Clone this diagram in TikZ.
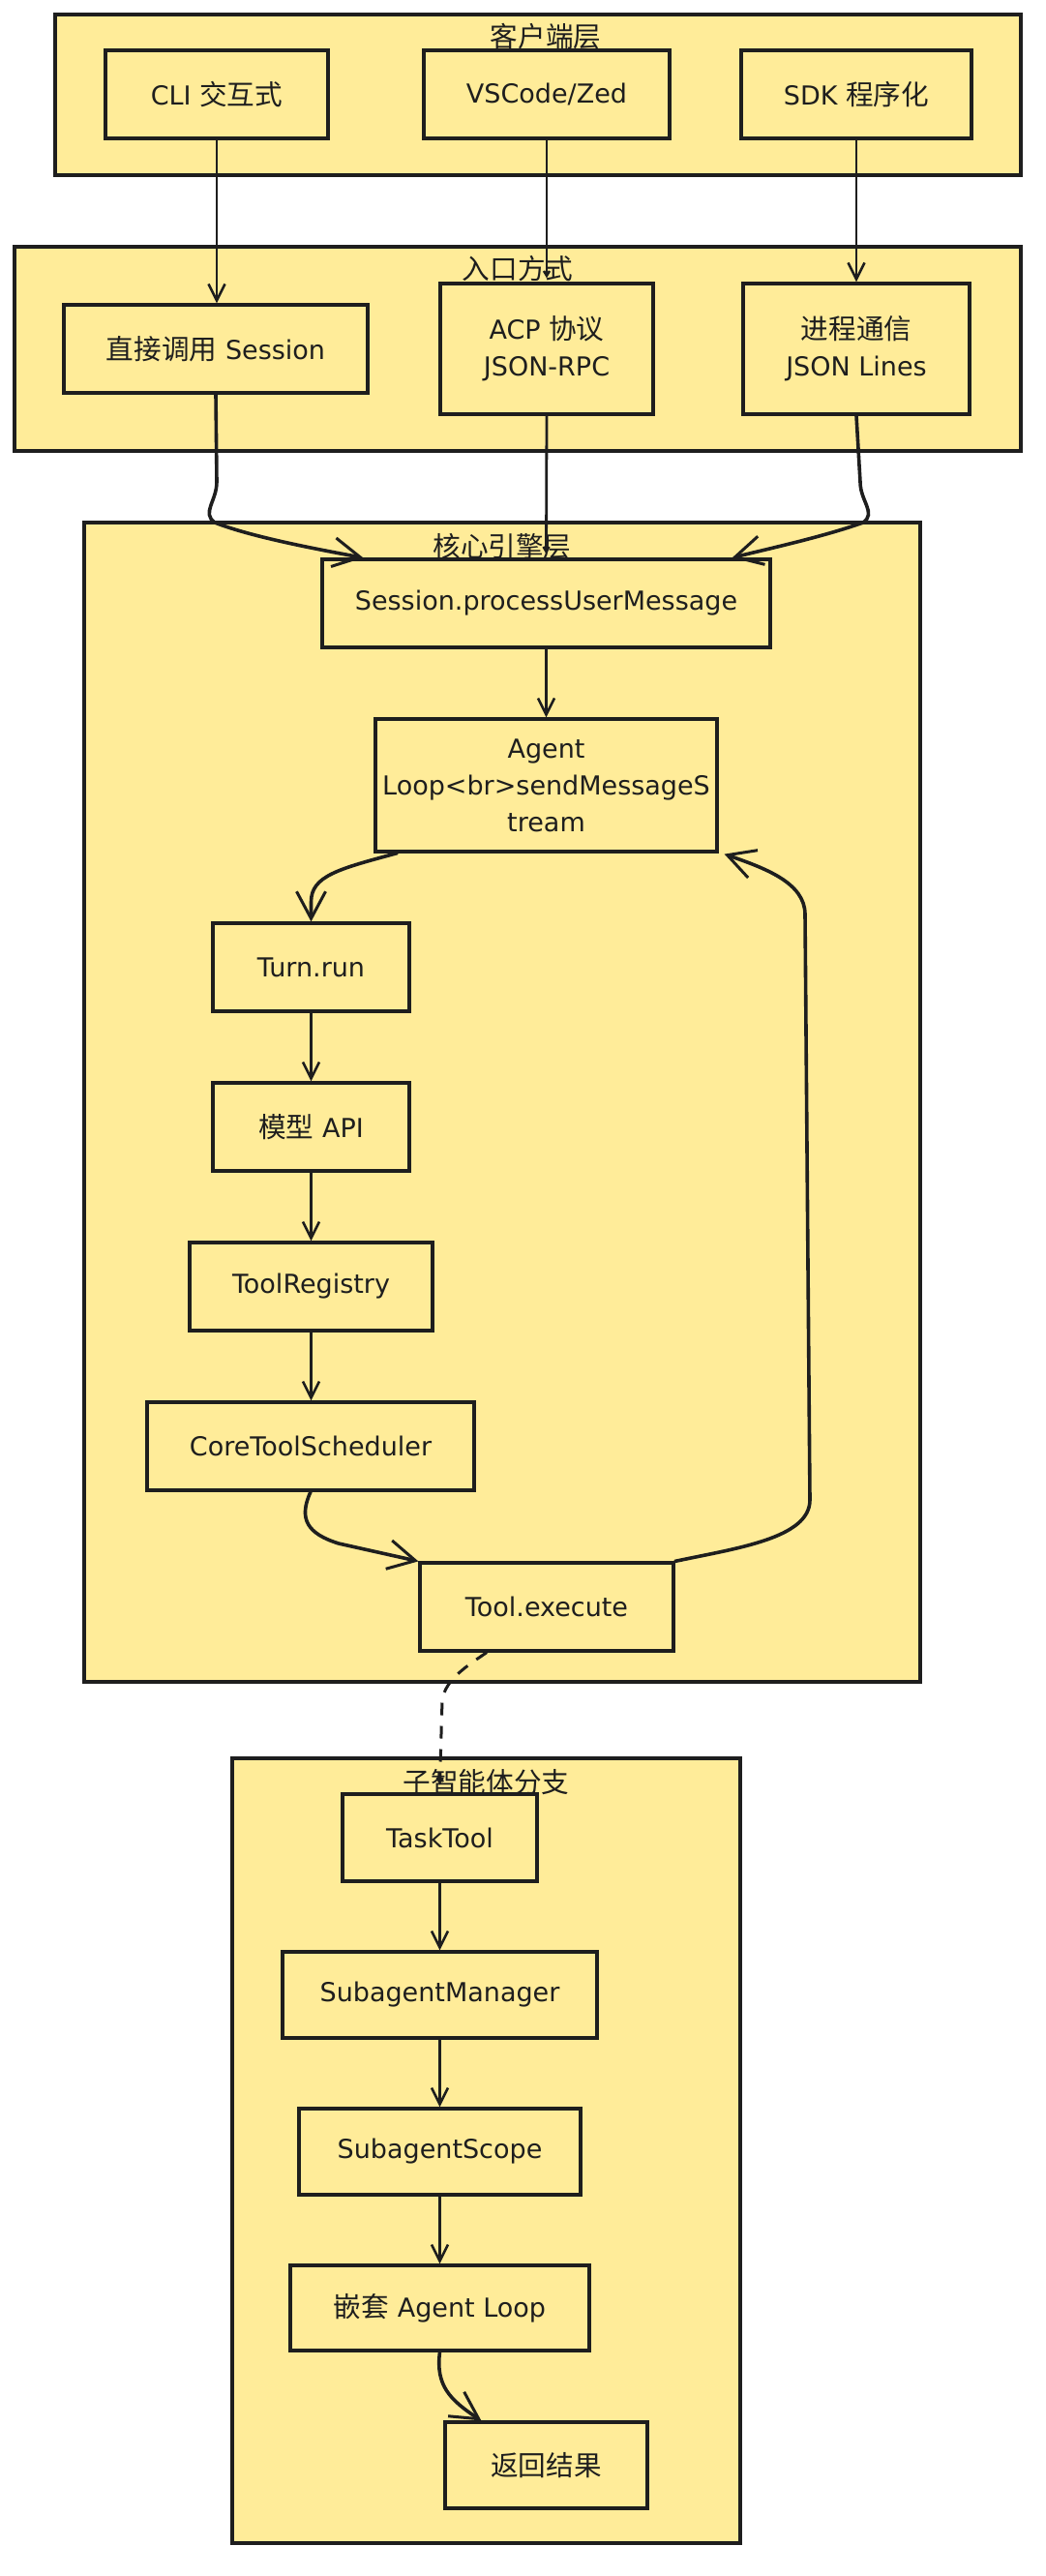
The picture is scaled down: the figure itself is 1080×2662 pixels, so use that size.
\documentclass[tikz,border=0pt]{standalone}
\usepackage{fontspec}
\setmainfont{DejaVu Sans}
\newfontfamily\cjk[Scale=1.06]{Noto Sans CJK SC}
\newcommand\zh[1]{{\cjk #1}}
\usetikzlibrary{arrows.meta,calc}
\definecolor{fillY}{HTML}{FFEC99}
\definecolor{ink}{HTML}{1E1E1E}
\begin{document}
\begin{tikzpicture}[x=1pt,y=-1pt,
  grp/.style={draw=ink, fill=fillY, line width=3.2pt, inner sep=0pt},
  grptitle/.style={font=\cjk\fontsize{27}{30}\selectfont, text=ink, inner sep=0pt},
  box/.style={draw=ink, fill=fillY, line width=3.2pt, align=center, inner sep=2pt,
    font=\fontsize{27}{38}\selectfont, text=ink, minimum height=91pt},
  arr/.style={draw=ink, line width=2.6pt, -{Straight Barb[length=17pt,width=17pt,line width=2.6pt]}},
  tinyarr/.style={draw=ink, line width=2.8pt, -{Straight Barb[length=5pt,width=6pt,line width=2.5pt]}},
  bigarr/.style={draw=ink, line width=3.6pt, line cap=round, -{Straight Barb[length=28pt,width=30pt,line width=3pt]}},
  dasharr/.style={draw=ink, line width=3pt, dash pattern=on 13pt off 11pt, -{Straight Barb[length=5pt,width=6pt,line width=2.5pt]}}
]
\useasboundingbox (0,0) rectangle (1080,2662);
\fill[white] (0,0) rectangle (1080,2662);

% groups
\node[grp, minimum width=998pt, minimum height=166pt] (client) at (556,98) {};
\node[grptitle] (clientT) at (564,38) {客户端层};
\node[grp, minimum width=1040pt, minimum height=211pt] (entry) at (535,360.5) {};
\node[grptitle] (entryT) at (535,278) {入口方式};
\node[grp, minimum width=864pt, minimum height=1198pt] (core) at (519,1139) {};
\node[grptitle] (coreT) at (519,565) {核心引擎层};
\node[grp, minimum width=525pt, minimum height=811pt] (sub) at (502.5,2222.5) {};
\node[grptitle] (subT) at (502.5,1842) {子智能体分支};

% nodes
\node[box, minimum width=230pt] (cli) at (224,97.5) {CLI \zh{交互式}};
\node[box, minimum width=254pt] (vsc) at (565,97.5) {VSCode/Zed};
\node[box, minimum width=238pt] (sdk) at (885,97.5) {SDK \zh{程序化}};
\node[box, minimum width=314pt] (direct) at (223,360.5) {\zh{直接调用} Session};
\node[box, minimum width=220pt, minimum height=135pt] (acp) at (565,360.5) {ACP \zh{协议}\\JSON-RPC};
\node[box, minimum width=234pt, minimum height=135pt] (proc) at (885,360.5) {\zh{进程通信}\\JSON Lines};
\node[box, minimum width=463pt] (session) at (564.5,623.5) {Session.processUserMessage};
\node[box, minimum width=353pt, minimum height=137pt] (agent) at (564.5,811.5) {Agent\\Loop<br>sendMessageS\\tream};
\node[box, minimum width=203pt] (turn) at (321.5,999.5) {Turn.run};
\node[box, minimum width=203pt] (model) at (321.5,1164.5) {\zh{模型} API};
\node[box, minimum width=251pt] (registry) at (321.5,1329.5) {ToolRegistry};
\node[box, minimum width=338pt] (sched) at (321,1494.5) {CoreToolScheduler};
\node[box, minimum width=262pt] (exec) at (565,1660.5) {Tool.execute};
\node[box, minimum width=201pt, minimum height=90pt] (task) at (454.5,1899) {TaskTool};
\node[box, minimum width=325pt, minimum height=89pt] (mgr) at (454.5,2061.5) {SubagentManager};
\node[box, minimum width=291pt, minimum height=89pt] (scope) at (454.5,2223.5) {SubagentScope};
\node[box, minimum width=309pt, minimum height=88pt] (nested) at (454.5,2385) {\zh{嵌套} Agent Loop};
\node[box, minimum width=209pt, minimum height=89pt] (result) at (564.5,2547.5) {\zh{返回结果}};

% helper coordinates
\coordinate (dsEnd) at ($(session.north west)+(44,0)$);
\coordinate (psEnd) at ($(session.north east)+(-41,0)$);
\coordinate (atStart) at ($(agent.south west)+(24,0)$);
\coordinate (aeEnd) at ($(agent.south east)+(6,1)$);
\coordinate (dStart) at ($(exec.south)+(-62,0)$);
\coordinate (rEnd) at ($(result.north west)+(39,0)$);

% edges
\draw[arr] (cli.south) -- (cli.south |- direct.north);
\draw[tinyarr] (vsc.south) -- ($(acp.north)+(0,-4)$);
\draw[arr] (sdk.south) -- (sdk.south |- proc.north);
\draw[bigarr] (direct.south) -- (224,498) .. controls (224,518) and (208,530) .. (222,540)
  .. controls (260,555) and (330,568) .. (dsEnd);
\draw[bigarr] (proc.south) -- (889,498) .. controls (889,518) and (906,530) .. (892,540)
  .. controls (850,555) and (790,568) .. (psEnd);
\draw[tinyarr] (acp.south) -- ($(session.north)+(0,-4)$);
\draw[arr] (session.south) -- (agent.north);
\draw[bigarr] (atStart) .. controls (350,898) and (321.5,905) .. (321.5,932) -- (turn.north);
\draw[arr] (turn.south) -- (model.north);
\draw[arr] (model.south) -- (registry.north);
\draw[arr] (registry.south) -- (registry.south |- sched.north);
\draw[bigarr] (sched.south) .. controls (308,1570) and (318,1585) .. (350,1595) -- (exec.north west);
\draw[bigarr] (exec.north east) .. controls (760,1600) and (837,1590) .. (837,1550)
  -- (832,945) .. controls (832,912) and (790,897) .. (aeEnd);
\draw[dasharr] (dStart) .. controls (485,1720) and (460,1735) .. (457,1757) -- ($(task.north)+(0,-8)$);
\draw[arr] (task.south) -- (mgr.north);
\draw[arr] (mgr.south) -- (scope.north);
\draw[arr] (scope.south) -- (nested.north);
\draw[bigarr] (nested.south) .. controls (450,2465) and (465,2480) .. (rEnd);
\end{tikzpicture}
\end{document}
